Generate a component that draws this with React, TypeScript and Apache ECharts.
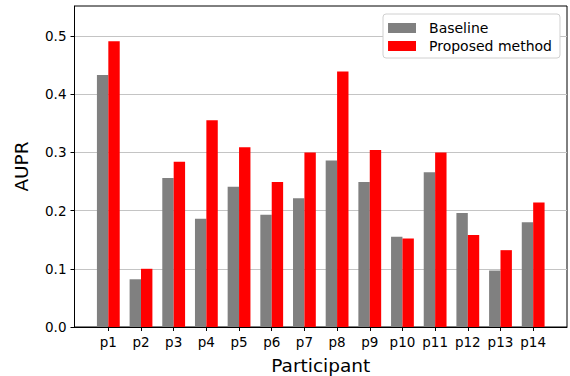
import React, { useEffect, useRef } from "react";
import * as echarts from "echarts";

const categories = ["p1", "p2", "p3", "p4", "p5", "p6", "p7", "p8", "p9", "p10", "p11", "p12", "p13", "p14"];
const baseline = [0.433, 0.082, 0.256, 0.186, 0.241, 0.193, 0.221, 0.286, 0.249, 0.155, 0.266, 0.196, 0.097, 0.180];
const proposed = [0.491, 0.100, 0.284, 0.355, 0.309, 0.249, 0.300, 0.439, 0.304, 0.152, 0.300, 0.158, 0.132, 0.214];
const yTicks = [0, 0.1, 0.2, 0.3, 0.4, 0.5];

const FONT = "DejaVu Sans";

export default function App() {
  const ref = useRef<HTMLDivElement>(null);
  useEffect(() => {
    if (!ref.current) return;
    const chart = echarts.init(ref.current, null, { renderer: "svg" });
    const idx = categories.map((_, i) => i);
    chart.setOption({
      animation: false,
      backgroundColor: "#ffffff",
      textStyle: { fontFamily: FONT },
      grid: {
        left: 74.5,
        right: 3,
        top: 6,
        bottom: 49,
        containLabel: false,
        outerBoundsMode: "none",
        show: true,
        borderColor: "#000",
        borderWidth: 1,
        backgroundColor: "transparent",
      },
      legend: {
        orient: "vertical",
        right: 10,
        top: 14,
        padding: [7, 8, 5, 5],
        itemWidth: 28,
        itemHeight: 10,
        itemGap: 4,
        borderColor: "#d0d0d0",
        borderWidth: 1,
        borderRadius: 3,
        backgroundColor: "#fff",
        textStyle: { fontFamily: FONT, fontSize: 14, color: "#000", padding: [0, 0, 0, 8] },
        data: [
          { name: "Baseline", icon: "rect" },
          { name: "Proposed method", icon: "rect" },
        ],
      },
      xAxis: {
        type: "value",
        min: -1.035,
        max: 14.035,
        name: "Participant",
        nameLocation: "middle",
        nameGap: 29,
        nameTextStyle: { fontFamily: FONT, fontSize: 18.5, color: "#000", verticalAlign: "top" },
        axisLine: { show: true, onZero: false, lineStyle: { color: "#000", width: 1 } },
        axisTick: { show: true, length: 4, lineStyle: { color: "#000" }, customValues: idx },
        axisLabel: {
          customValues: idx,
          margin: 8,
          fontFamily: FONT,
          fontSize: 13.5,
          color: "#000",
          formatter: (v: number) => categories[Math.round(v)] ?? "",
        },
        splitLine: { show: false },
      },
      yAxis: {
        type: "value",
        min: 0,
        max: 0.5515,
        interval: 0.1,
        name: "AUPR",
        nameLocation: "middle",
        nameGap: 44,
        nameTextStyle: { fontFamily: FONT, fontSize: 18.5, color: "#000" },
        axisLine: { show: true, onZero: false, lineStyle: { color: "#000", width: 1 } },
        axisTick: { show: true, length: 4, lineStyle: { color: "#000" }, customValues: yTicks },
        axisLabel: {
          customValues: yTicks,
          margin: 8,
          fontFamily: FONT,
          fontSize: 13.5,
          color: "#000",
          formatter: (v: number) => v.toFixed(1),
        },
        splitLine: { show: true, lineStyle: { color: "#c4c4c4", width: 1 } },
      },
      series: [
        {
          name: "Baseline",
          type: "bar",
          barWidth: 11.4,
          barGap: "0%",
          itemStyle: { color: "#808080" },
          data: baseline.map((v, i) => [i, v]),
        },
        {
          name: "Proposed method",
          type: "bar",
          barWidth: 11.4,
          barGap: "0%",
          itemStyle: { color: "#ff0000" },
          data: proposed.map((v, i) => [i, v]),
        },
      ],
    });
    return () => chart.dispose();
  }, []);
  return <div ref={ref} style={{ position: "absolute", left: 0, top: 0, width: 570, height: 376 }} />;
}
